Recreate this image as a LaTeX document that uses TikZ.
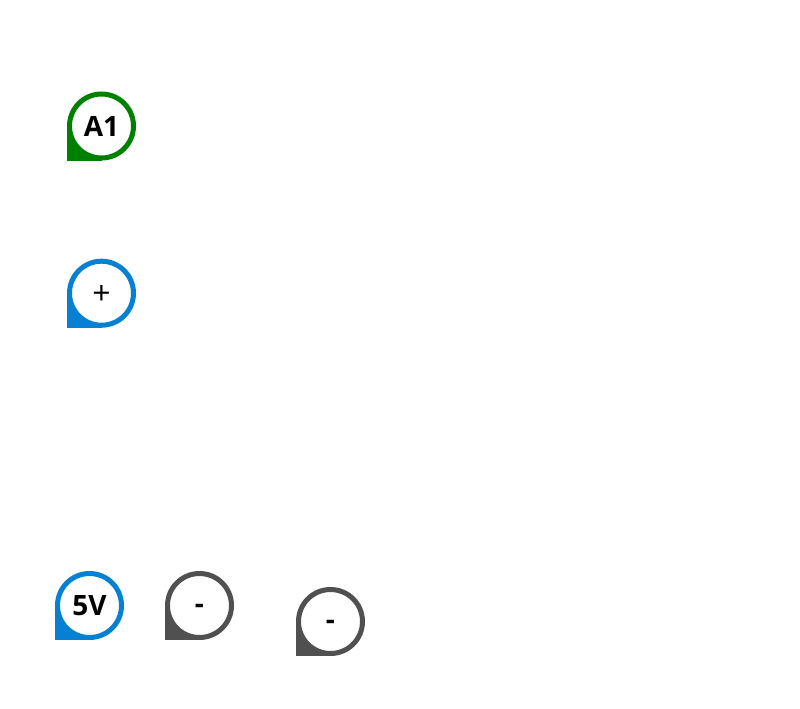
\documentclass[tikz,border=0pt]{standalone}
\usepackage{fontspec}
\setmainfont{Open Sans}
\definecolor{pingreen}{HTML}{008000}
\definecolor{pinblue}{HTML}{0680D2}
\definecolor{pingrey}{HTML}{505050}
\tikzset{
  pin/.style={circle,draw,fill=white,line width=5pt,minimum size=64pt,inner sep=0pt,text=black,text height=20pt,text depth=0pt,font=\fontsize{28}{28}\selectfont\bfseries},
  pinplus/.style={pin,font=\fontsize{32}{32}\selectfont,text height=23pt},
  pinminus/.style={pin,draw=pingrey,text height=15pt}
}
\begin{document}
\begin{tikzpicture}[x=1pt,y=-1pt]
\useasboundingbox (0,0) rectangle (800,709);

\fill[pingreen] (67,160.5) rectangle (101.5,126);
\draw (101.5,126) node(AONE)[pin,draw=pingreen]{A1};

\fill[pinblue] (67,327.7) rectangle (101.5,293.2);
\draw (101.5,293.2) node(PLUS)[pinplus,draw=pinblue]{+};

\fill[pinblue] (55,640) rectangle (89.5,605.5);
\draw (89.5,605.5) node(FIVEV)[pin,draw=pinblue]{5V};

\fill[pingrey] (165,640) rectangle (199.5,605.5);
\draw (199.5,605.5) node(MINUSA)[pinminus]{-};

\fill[pingrey] (296,656) rectangle (330.5,621.5);
\draw (330.5,621.5) node(MINUSB)[pinminus]{-};

\end{tikzpicture}
\end{document}
